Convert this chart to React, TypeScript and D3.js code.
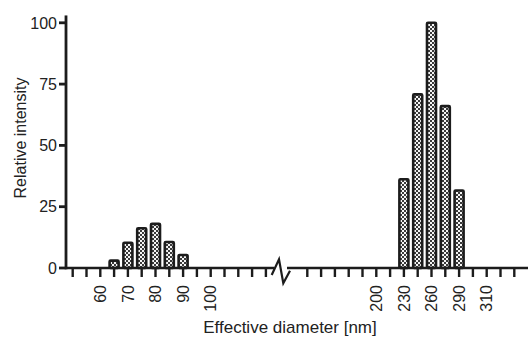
import React from "react";
import * as d3 from "d3";

// Bin tick labels (one per category slot on the broken x axis)
const binLabels: string[] = [
  "", "", "60", "", "70", "", "80", "", "90", "", "100", "", "", "", "",
  "", "", "", "", "", "", "", "200", "", "230", "", "260", "", "290", "", "310", "", "",
];
// Slots hidden by the axis break
const breakSlots: number[] = [15, 16];
// Relative intensity per slot
const intensity: number[] = [
  0, 0, 0, 3, 10.3, 16.2, 18, 10.6, 5.3, 0, 0, 0, 0, 0, 0,
  0, 0, 0, 0, 0, 0, 0, 0, 0, 36.2, 70.8, 100, 66, 31.6, 0, 0, 0, 0,
];
const yTicks: number[] = [0, 25, 50, 75, 100];

const W = 531;
const H = 338;
const INK = "#1c1c1c";
const FONT = "'Liberation Sans', Arial, Helvetica, sans-serif";

export default function App() {
  const x = d3.scaleLinear().domain([0, 32]).range([72.7, 514.3]);
  const y = d3.scaleLinear().domain([0, 100]).range([268, 22.8]);
  const axisX0 = 66;
  const axisX1 = 528;
  const yTop = y(103);
  const barW = 9;
  const slots = d3.range(binLabels.length);

  const bars = slots.filter((i) => intensity[i] > 0);
  const ticks = slots.filter((i) => !breakSlots.includes(i));

  return (
    <svg
      width={W}
      height={H}
      style={{ position: "absolute", left: 0, top: 0, background: "#fff" }}
      fontFamily={FONT}
    >
      <defs>
        <pattern id="chk" width="4" height="4" patternUnits="userSpaceOnUse">
          <rect width="4" height="4" fill="#3a3a3a" />
          <rect x="0" y="0" width="2" height="2" fill="#f4f4f4" />
          <rect x="2" y="2" width="2" height="2" fill="#f4f4f4" />
        </pattern>
      </defs>

      {/* bars */}
      {bars.map((i) => (
        <rect
          key={"b" + i}
          x={x(i) - barW / 2}
          y={y(intensity[i])}
          width={barW}
          height={y(0) - y(intensity[i])}
          fill="url(#chk)"
          stroke={INK}
          strokeWidth={2.6}
          rx={1}
        />
      ))}

      {/* y axis */}
      <line x1={axisX0} x2={axisX0} y1={yTop} y2={y(0) + 1.3} stroke={INK} strokeWidth={2.8} />
      {yTicks.map((t) => (
        <g key={"yt" + t}>
          <line x1={axisX0 - 7} x2={axisX0} y1={y(t)} y2={y(t)} stroke={INK} strokeWidth={2.8} />
          <text
            x={axisX0 - 9}
            y={y(t)}
            dy="0.36em"
            textAnchor="end"
            fontSize={16}
            fill="#222"
          >
            {t}
          </text>
        </g>
      ))}

      {/* x axis */}
      <line x1={axisX0} x2={axisX1} y1={y(0)} y2={y(0)} stroke={INK} strokeWidth={2.6} />
      {ticks.map((i) => (
        <line
          key={"xt" + i}
          x1={x(i)}
          x2={x(i)}
          y1={y(0)}
          y2={y(0) + 9}
          stroke={INK}
          strokeWidth={2.4}
        />
      ))}
      {slots
        .filter((i) => binLabels[i] !== "")
        .map((i) => (
          <text
            key={"xl" + i}
            transform={`translate(${x(i)},${285}) rotate(-90)`}
            dy="0.36em"
            textAnchor="end"
            fontSize={16}
            fill="#222"
          >
            {binLabels[i]}
          </text>
        ))}

      {/* axis break */}
      <rect x={274} y={y(0) - 3} width={13} height={6} fill="#fff" />
      <polyline
        points="271.7,275 279,259.3 283.3,283.3 290,270.7"
        fill="none"
        stroke={INK}
        strokeWidth={2.2}
        strokeLinejoin="miter"
      />

      {/* titles */}
      <text
        transform={`translate(26,138) rotate(-90)`}
        textAnchor="middle"
        fontSize={16}
        fill="#222"
      >
        Relative intensity
      </text>
      <text x={290} y={333} textAnchor="middle" fontSize={17} fill="#222">
        Effective diameter [nm]
      </text>
    </svg>
  );
}
